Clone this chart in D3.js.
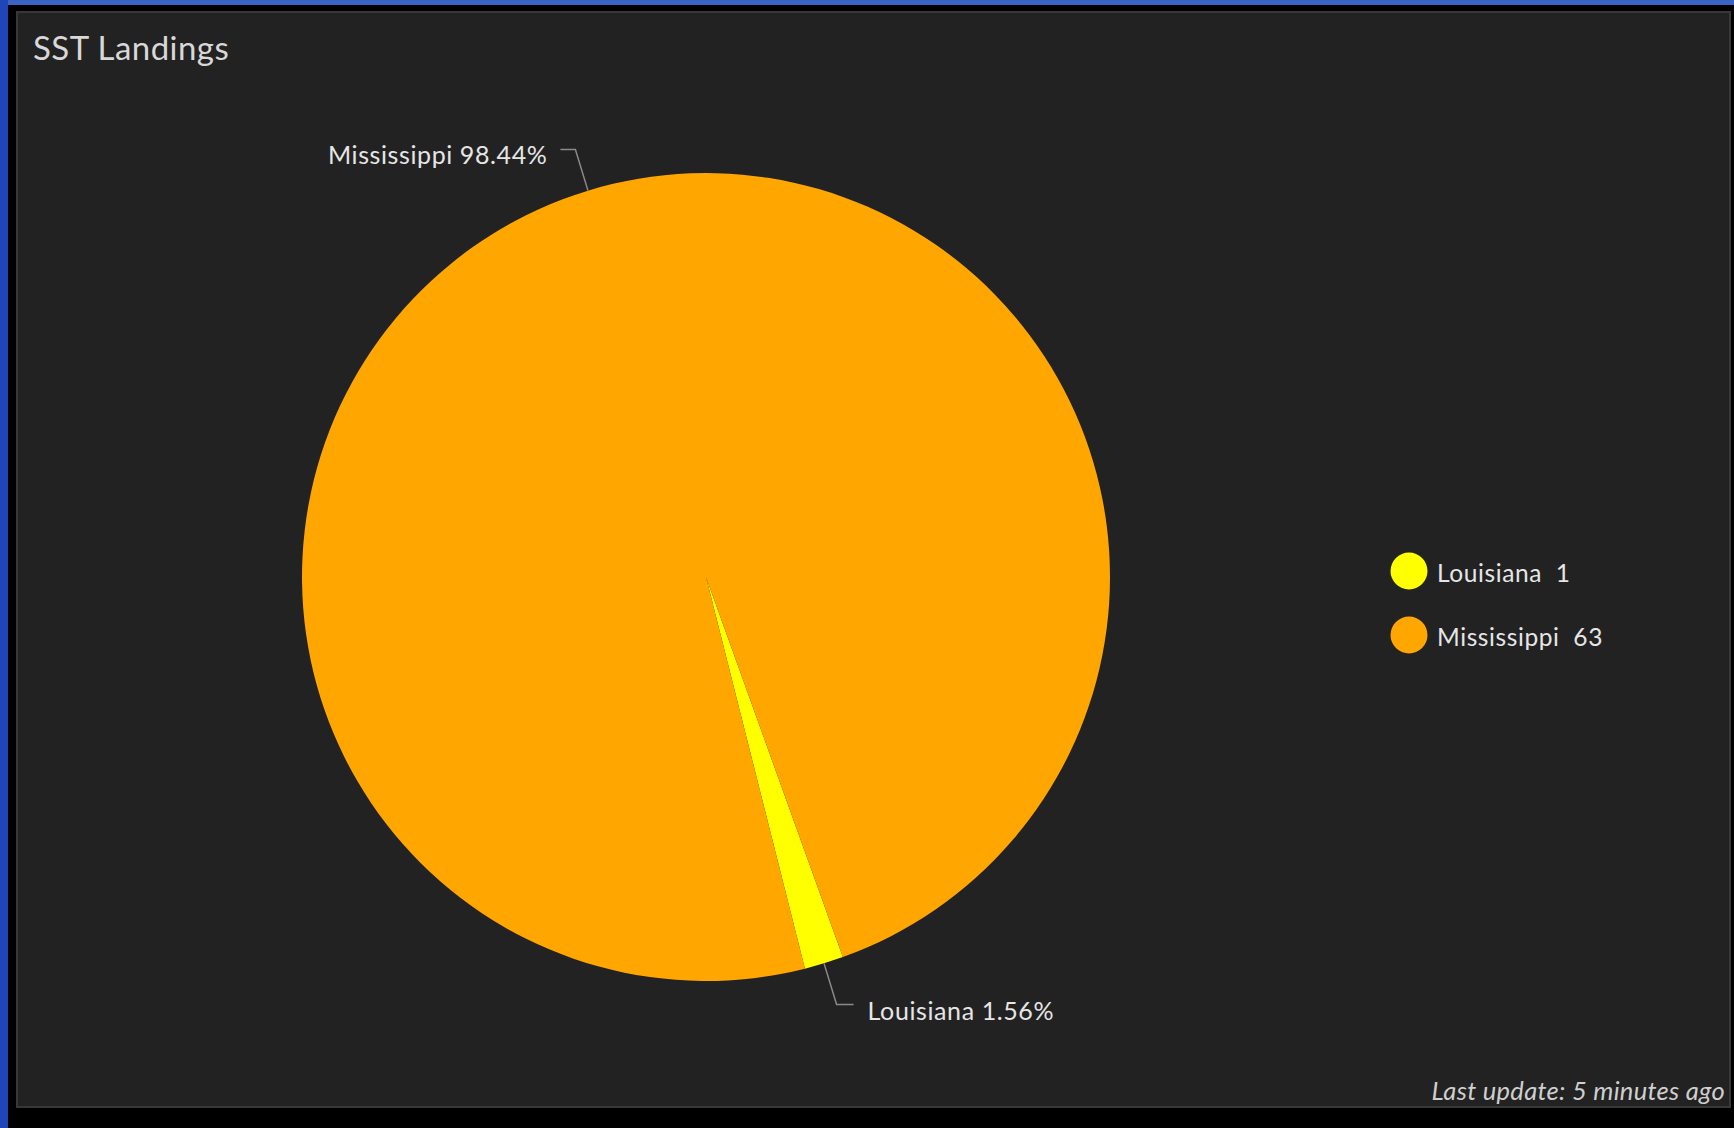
<!DOCTYPE html>
<html><head><meta charset="utf-8">
<script src="https://cdn.jsdelivr.net/npm/d3@7"></script>
<style>
html,body{margin:0;padding:0;background:#000;overflow:hidden;}
svg{display:block;}
</style></head>
<body>
<svg id="chart" width="1734" height="1128"></svg>
<script>
const title = "SST Landings";
const categories = ["Louisiana", "Mississippi"];
const values = [1, 63];
const colors = ["#ffff00", "#ffa600"];
const footer = "Last update: 5 minutes ago";

const W = 1734, H = 1128;
const svg = d3.select("#chart");
const font = "Lato, 'Noto Sans', sans-serif";

// slide background
svg.append("rect").attr("x",0).attr("y",0).attr("width",W).attr("height",H).attr("fill","#000");
svg.append("rect").attr("x",0).attr("y",0).attr("width",W).attr("height",5).attr("fill","#3a63c4");
svg.append("rect").attr("x",0).attr("y",0).attr("width",8).attr("height",H).attr("fill","#1f45b8");
// panel
svg.append("rect").attr("x",17).attr("y",12).attr("width",1713).attr("height",1095)
  .attr("fill","#222222").attr("stroke","#383838").attr("stroke-width",2);

svg.append("text").attr("x",33).attr("y",60).text(title)
  .attr("font-family",font).attr("font-size",33).attr("letter-spacing",0.45).attr("fill","#d8d8d8");

const cx = 706, cy = 577, R = 404;
const total = d3.sum(values);
const start = 160.2 * Math.PI / 180;
const pie = d3.pie().sort(null).startAngle(start).endAngle(start + 2*Math.PI);
const arcs = pie(values);
const arc = d3.arc().innerRadius(0).outerRadius(R);
const color = d3.scaleOrdinal().domain(categories).range(colors);

const g = svg.append("g").attr("transform",`translate(${cx},${cy})`);
g.selectAll("path.slice").data(arcs).enter().append("path")
  .attr("class","slice").attr("d",arc)
  .attr("fill",(d,i)=>color(categories[i]));

// labels with leader lines
const fmt = v => (v/total*100).toFixed(2) + "%";
arcs.forEach((d,i)=>{
  const a = (d.startAngle + d.endAngle)/2;
  const sx = Math.sin(a), sy = -Math.cos(a);
  const p0 = [sx*R, sy*R];
  const p1 = [sx*(R+43), sy*(R+43)];
  const right = sx >= 0;
  const p2 = [p1[0] + (right ? 17 : -15), p1[1]];
  g.append("polyline").attr("points",[p0,p1,p2].map(p=>p.join(",")).join(" "))
    .attr("fill","none").attr("stroke","#8a8a8a").attr("stroke-width",1.5);
  g.append("text").attr("x", p2[0] + (right ? 14 : -13)).attr("y", p2[1] + (right ? 16 : 14))
    .attr("text-anchor", right ? "start" : "end")
    .attr("font-family",font).attr("font-size",25).attr("letter-spacing",0.6).attr("fill","#e6e6e6")
    .text(categories[i] + " " + fmt(values[i]));
});

// legend
const leg = svg.append("g").attr("transform","translate(1409,571)");
categories.forEach((c,i)=>{
  const row = leg.append("g").attr("transform",`translate(0,${i*64})`);
  row.append("circle").attr("r",18.5).attr("fill",color(c));
  row.append("text").attr("x",28).attr("y",11)
    .attr("font-family",font).attr("font-size",24.5).attr("letter-spacing",0.6).attr("fill","#e6e6e6")
    .attr("xml:space","preserve")
    .text(c + "  " + values[i]);
});

svg.append("text").attr("x",1725).attr("y",1100).attr("text-anchor","end")
  .attr("font-family",font).attr("font-style","italic").attr("font-size",25.5).attr("letter-spacing",0.3)
  .attr("fill","#cfcfcf").text(footer);
</script>
</body></html>
